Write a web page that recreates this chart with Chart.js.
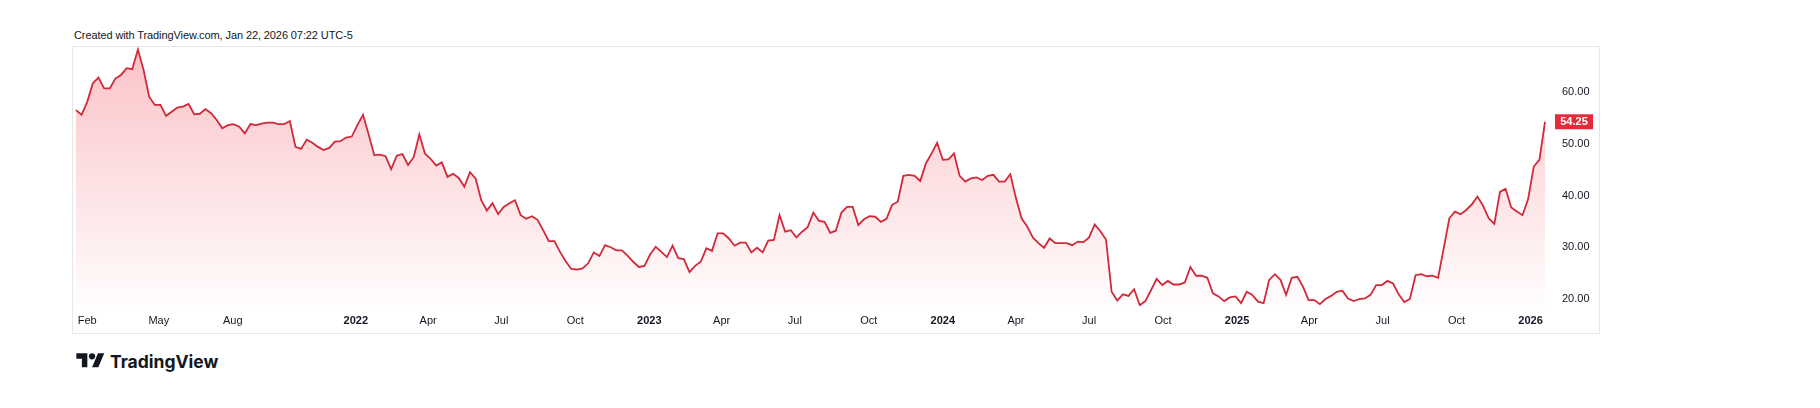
<!DOCTYPE html>
<html>
<head>
<meta charset="utf-8">
<script src="https://cdn.jsdelivr.net/npm/chart.js@4.4.1/dist/chart.umd.min.js"></script>
<style>
  html, body { margin: 0; padding: 0; background: #fff; }
  body { width: 1820px; height: 408px; position: relative; overflow: hidden; font-family: "Liberation Sans", Arial, sans-serif; color: #131722; }
  .caption { position: absolute; left: 74px; top: 29px; font-size: 11px; line-height: 13px; letter-spacing: -0.1px; white-space: nowrap; }
  .panel { position: absolute; left: 72px; top: 46px; width: 1526px; height: 286px; border: 1px solid #e6e6e6; }
  .panel .box { position: absolute; left: 0; top: 0; width: 1526px; height: 286px; }
  .logo { position: absolute; left: 76px; top: 351px; height: 20px; display: flex; align-items: center; gap: 5px; font-family: Inter, sans-serif; font-weight: 700; font-size: 17.5px; color: #131722; }
</style>
</head>
<body>
<div class="caption">Created with TradingView.com, Jan 22, 2026 07:22 UTC-5</div>
<div class="panel"><div class="box"><canvas id="chart"></canvas></div></div>
<div class="logo">
  <svg width="29" height="22" viewBox="0 0 36 28"><path d="M14 22H7V11H0V4h14v18zM28 22h-8l7.5-18h8L28 22z" fill="#131722"/><circle cx="20" cy="8" r="4" fill="#131722"/></svg>
  <span>TradingView</span>
</div>
<script>
// weekly closes, first bar dated Mon 2021-01-18
const firstWeek = "2021-01-18";
const weeklyClose = [
  56.5, 55.6, 58.1, 61.7, 62.8, 60.7, 60.7, 62.6, 63.3, 64.6,
  64.4, 68.2, 64.3, 59.1, 57.5, 57.5, 55.4, 56.2, 57.0, 57.2,
  57.7, 55.7, 55.8, 56.7, 55.9, 54.6, 53.0, 53.6, 53.8, 53.3,
  52.0, 53.8, 53.6, 53.9, 54.1, 54.1, 53.8, 53.8, 54.4, 49.4,
  49.0, 50.8, 50.2, 49.4, 48.8, 49.2, 50.4, 50.5, 51.2, 51.4,
  53.6, 55.6, 51.8, 47.8, 47.9, 47.6, 45.1, 47.7, 48.0, 45.9,
  47.4, 51.8, 48.1, 47.1, 45.8, 46.4, 43.6, 44.2, 43.4, 41.7,
  44.5, 43.3, 39.1, 37.1, 38.5, 36.4, 37.8, 38.5, 39.1, 36.2,
  35.5, 36.0, 35.3, 33.3, 31.2, 31.2, 29.1, 27.3,
  25.8, 25.7, 25.9, 26.9, 29.0, 28.3, 30.4, 30.0, 29.4, 29.4,
  28.4, 27.2, 26.2, 26.4, 28.6, 30.1, 29.1, 28.1, 30.3, 27.9,
  27.7, 25.2, 26.4, 27.2, 29.8, 29.3, 32.7, 32.7, 31.7, 30.3,
  30.9, 30.9, 29.0, 29.9, 29.0, 31.3, 31.4, 36.2, 33.0, 33.3,
  31.9, 33.0, 33.9, 36.7, 35.1, 34.9, 32.8, 33.2, 36.7, 37.8,
  37.8, 34.3, 35.4, 36.0, 35.9, 34.9, 35.5, 38.2, 38.8, 43.8,
  44.0, 43.8, 42.8, 46.2, 48.1, 50.2, 46.9, 47.0, 48.1, 43.8,
  42.7, 43.3, 43.5, 43.0, 43.8, 44.0, 42.7, 42.7, 44.1, 39.5,
  35.6, 34.0, 31.9, 30.8, 29.9, 31.7, 30.8, 30.8,
  30.8, 30.4, 31.1, 31.0, 31.9, 34.4, 33.1, 31.5, 21.4, 19.7,
  20.9, 20.6, 21.9, 18.8, 19.6, 21.7, 23.9, 22.7, 23.5, 22.8,
  22.8, 23.2, 26.2, 24.5, 24.5, 24.1, 21.1, 20.5, 19.6, 20.3,
  20.5, 19.2, 21.4, 20.8, 19.5, 19.2, 23.7, 24.8, 23.7, 20.8,
  24.1, 24.3, 22.4, 19.8, 19.8, 19.0, 20.0, 20.6, 21.4, 21.6,
  20.1, 19.6, 20.0, 20.1, 20.8, 22.7, 22.7, 23.5, 23.0, 20.9,
  19.4, 20.0, 24.6, 24.8, 24.4, 24.5, 24.1, 29.8, 35.6, 36.9,
  36.4, 37.2, 38.3, 39.8, 38.0, 35.6, 34.5, 40.7, 41.3, 37.7,
  36.9, 36.2, 39.3, 45.6, 46.9, 54.25
];

const tickDates = [
  "2021-02-01", "2021-05-01", "2021-08-01",
  "2022-01-01", "2022-04-01", "2022-07-01", "2022-10-01",
  "2023-01-01", "2023-04-01", "2023-07-01", "2023-10-01",
  "2024-01-01", "2024-04-01", "2024-07-01", "2024-10-01",
  "2025-01-01", "2025-04-01", "2025-07-01", "2025-10-01",
  "2026-01-01"
];
const tickLabels = [
  "Feb", "May", "Aug",
  "2022", "Apr", "Jul", "Oct",
  "2023", "Apr", "Jul", "Oct",
  "2024", "Apr", "Jul", "Oct",
  "2025", "Apr", "Jul", "Oct",
  "2026"
];
const priceTicks = [20, 30, 40, 50, 60];

const DAY = 86400000;
const toDay = (s) => Date.parse(s + "T00:00:00Z") / DAY;
const day0 = toDay(firstWeek);
const points = weeklyClose.map((v, i) => ({ x: day0 + i * 7, y: v }));
const lastDay = day0 + (weeklyClose.length - 1) * 7;
const tickDays = tickDates.map(toDay);
const lastValue = weeklyClose[weeklyClose.length - 1];

const priceTag = {
  id: "priceTag",
  afterDraw(chart) {
    const y = chart.scales.y;
    const py = y.getPixelForValue(lastValue);
    const ctx = chart.ctx;
    ctx.save();
    ctx.fillStyle = "#e8293c";
    ctx.fillRect(y.left + 5, py - 7.5, 38, 15);
    ctx.fillStyle = "#ffffff";
    ctx.font = "bold 11px 'Liberation Sans'";
    ctx.textAlign = "center";
    ctx.textBaseline = "middle";
    ctx.fillText(lastValue.toFixed(2), y.left + 24, py + 0.5);
    ctx.restore();
  },
};

new Chart(document.getElementById("chart"), {
  type: "line",
  data: {
    datasets: [
      {
        data: points,
        borderColor: "#cf293a",
        borderWidth: 1.8,
        pointRadius: 0,
        tension: 0,
        fill: "start",
        backgroundColor: (c) => {
          const a = c.chart.chartArea;
          if (!a) return "rgba(242,54,69,0.1)";
          const g = c.chart.ctx.createLinearGradient(0, a.top, 0, a.bottom);
          g.addColorStop(0, "rgba(242,54,69,0.30)");
          g.addColorStop(1, "rgba(242,54,69,0.01)");
          return g;
        },
      },
    ],
  },
  options: {
    responsive: true,
    maintainAspectRatio: false,
    animation: false,
    layout: { padding: 0 },
    plugins: {
      legend: { display: false },
      tooltip: { enabled: false },
    },
    scales: {
      x: {
        type: "linear",
        min: day0 - 3.7,
        max: lastDay + 6.2,
        border: { display: false },
        grid: { display: false, drawTicks: false },
        afterBuildTicks: (s) => {
          s.ticks = tickDays.map((v) => ({ value: v }));
        },
        afterFit: (s) => {
          s.height = 27;
          s.paddingLeft = 0;
          s.paddingRight = 0;
        },
        ticks: {
          autoSkip: false,
          maxRotation: 0,
          padding: 8,
          color: "#131722",
          font: (c) => ({
            family: "Liberation Sans",
            size: 11,
            weight: /^\d{4}$/.test(tickLabels[c.index]) ? "bold" : "normal",
          }),
          callback: (v, i) => tickLabels[i],
        },
      },
      y: {
        position: "right",
        min: 18.65,
        max: 68.7,
        border: { display: false },
        grid: { display: false, drawTicks: false },
        afterBuildTicks: (s) => {
          s.ticks = priceTicks.map((v) => ({ value: v }));
        },
        afterFit: (s) => {
          s.width = 49;
          s.paddingTop = 0;
          s.paddingBottom = 0;
        },
        ticks: {
          padding: 12,
          color: "#131722",
          font: { family: "Liberation Sans", size: 11 },
          callback: (v) => v.toFixed(2),
        },
      },
    },
  },
  plugins: [priceTag],
});
</script>
</body>
</html>
